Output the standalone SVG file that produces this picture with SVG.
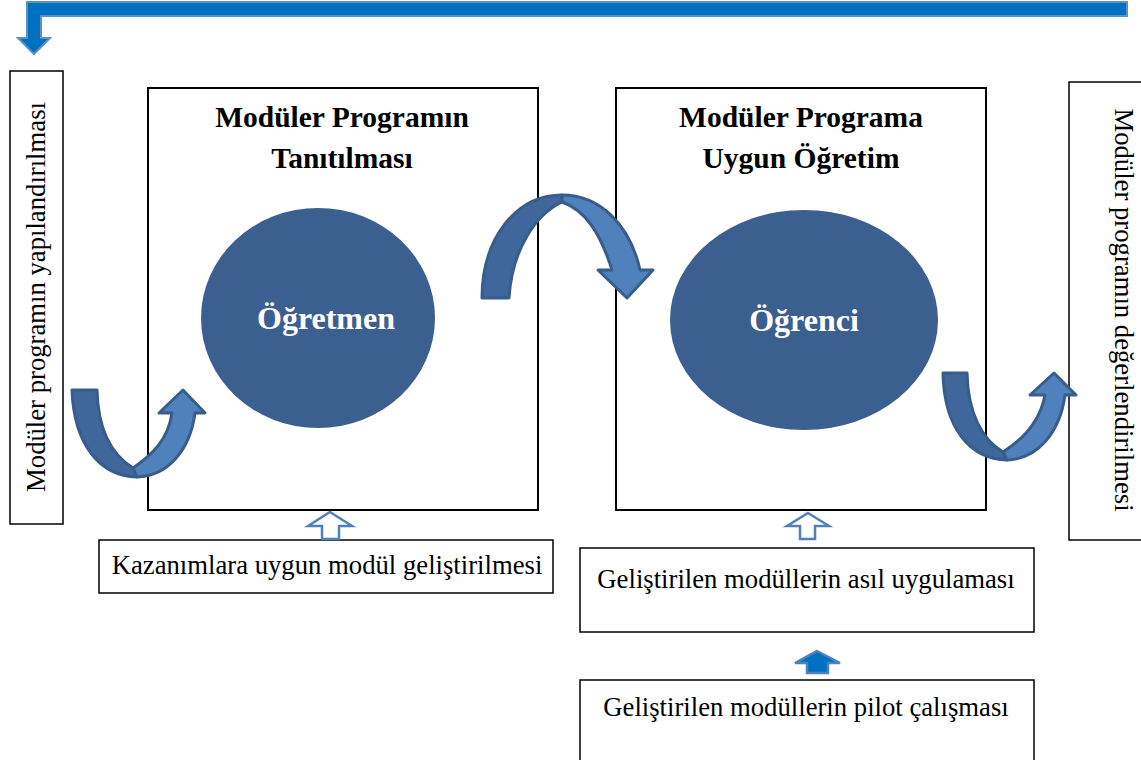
<svg xmlns="http://www.w3.org/2000/svg" width="1141" height="760" viewBox="0 0 1141 760">
  <style>
    .box { fill: #ffffff; stroke: #000000; stroke-width: 1.5; }
    .frame { fill: #ffffff; stroke: #000000; stroke-width: 2; }
    .title { font-family: "Liberation Serif", "Times New Roman", serif; font-weight: bold; font-size: 29.5px; fill: #000000; text-anchor: middle; }
    .label { font-family: "Liberation Serif", "Times New Roman", serif; font-size: 26.7px; fill: #000000; text-anchor: middle; }
    .circle { fill: #3B5F8F; }
    .ctext { font-family: "Liberation Serif", "Times New Roman", serif; font-weight: bold; font-size: 32px; fill: #ffffff; text-anchor: middle; }
    .bend-dark { fill: #3F679C; stroke: #385D8A; stroke-width: 3; stroke-linejoin: round; }
    .bend-light { fill: #4F81BD; stroke: #385D8A; stroke-width: 3; stroke-linejoin: round; }
    .up-hollow { fill: #ffffff; stroke: #4F81BD; stroke-width: 2.5; }
    .up-solid { fill: #0070C0; stroke: #4F81BD; stroke-width: 2.5; }
    .feedback { fill: #0070C0; stroke: #5B8FC8; stroke-width: 2; }
  </style>

  <!-- feedback loop arrow along the top -->
  <g id="feedback-loop">
    <path class="feedback" d="M27,2 L1127,2 L1127,16 L41,16 L41,38 L50,38 L34,54 L18,38 L27,38 Z"/>
  </g>

  <!-- left: structuring -->
  <g id="node-structuring">
    <rect class="box" x="10" y="71" width="53" height="453"/>
    <text class="label" transform="translate(45,297) rotate(-90)">Modüler programın yapılandırılması</text>
  </g>

  <!-- introduction of the program -->
  <g id="node-introduction">
    <rect class="frame" x="148" y="88" width="390" height="422"/>
    <text class="title" x="342" y="127">Modüler Programın</text>
    <text class="title" x="342" y="168">Tanıtılması</text>
  </g>
  <g id="node-teacher">
    <ellipse class="circle" cx="318" cy="318" rx="117" ry="110"/>
    <text class="ctext" x="326" y="329">Öğretmen</text>
  </g>

  <!-- instruction according to the program -->
  <g id="node-instruction">
    <rect class="frame" x="616" y="88" width="370" height="422"/>
    <text class="title" x="801" y="127">Modüler Programa</text>
    <text class="title" x="801" y="168">Uygun Öğretim</text>
  </g>
  <g id="node-student">
    <ellipse class="circle" cx="804" cy="320" rx="134" ry="110"/>
    <text class="ctext" x="804" y="331">Öğrenci</text>
  </g>

  <!-- right: evaluation -->
  <g id="node-evaluation">
    <rect class="box" x="1069" y="82" width="80" height="458"/>
    <text class="label" transform="translate(1115,310) rotate(90)">Modüler programın değerlendirilmesi</text>
  </g>

  <!-- bottom boxes -->
  <g id="node-development">
    <rect class="box" x="99" y="540" width="454" height="53"/>
    <text class="label" x="327" y="574">Kazanımlara uygun modül geliştirilmesi</text>
  </g>
  <g id="node-application">
    <rect class="box" x="580" y="548" width="454" height="84"/>
    <text class="label" x="806" y="588">Geliştirilen modüllerin asıl uygulaması</text>
  </g>
  <g id="node-pilot">
    <rect class="box" x="580" y="680" width="454" height="90"/>
    <text class="label" x="806" y="716">Geliştirilen modüllerin pilot çalışması</text>
  </g>

  <!-- connectors -->
  <g id="connectors">
    <!-- structuring -> teacher -->
    <path class="bend-dark" d="M72,390 L97,390 C98,430 112,455 133,468 L137,477 C100,476 74,445 72,390 Z"/>
    <path class="bend-light" d="M133,468 C152,455 168,440 172,413 L159,413 L183,390 L205,413 L195,413 C190,450 168,476 137,477 Z"/>

    <!-- teacher -> student -->
    <path class="bend-dark" d="M482,298 L509,298 C512,250 535,215 562,202 L562,195 C515,195 482,240 482,298 Z"/>
    <path class="bend-light" d="M562,202 C585,210 600,232 612,270 L598,270 L627,298 L653,270 L640,270 C630,225 600,195 562,195 Z"/>

    <!-- student -> evaluation -->
    <path class="bend-dark" d="M943,373 L967,373 C968,413 982,440 1003,452 L1007,460 C970,459 944,428 943,373 Z"/>
    <path class="bend-light" d="M1003,452 C1022,440 1040,422 1045,395 L1030,395 L1054,373 L1076,395 L1065,395 C1060,432 1038,459 1007,460 Z"/>

    <!-- upward block arrows -->
    <path class="up-hollow" d="M330,512 L352,526 L339,526 L339,539 L322,539 L322,526 L308,526 Z"/>
    <path class="up-hollow" d="M808,513 L829,526 L815,526 L815,539 L800,539 L800,526 L787,526 Z"/>
    <path class="up-solid" d="M817,651 L840,663 L828,663 L828,673 L807,673 L807,663 L795,663 Z"/>
  </g>
</svg>
